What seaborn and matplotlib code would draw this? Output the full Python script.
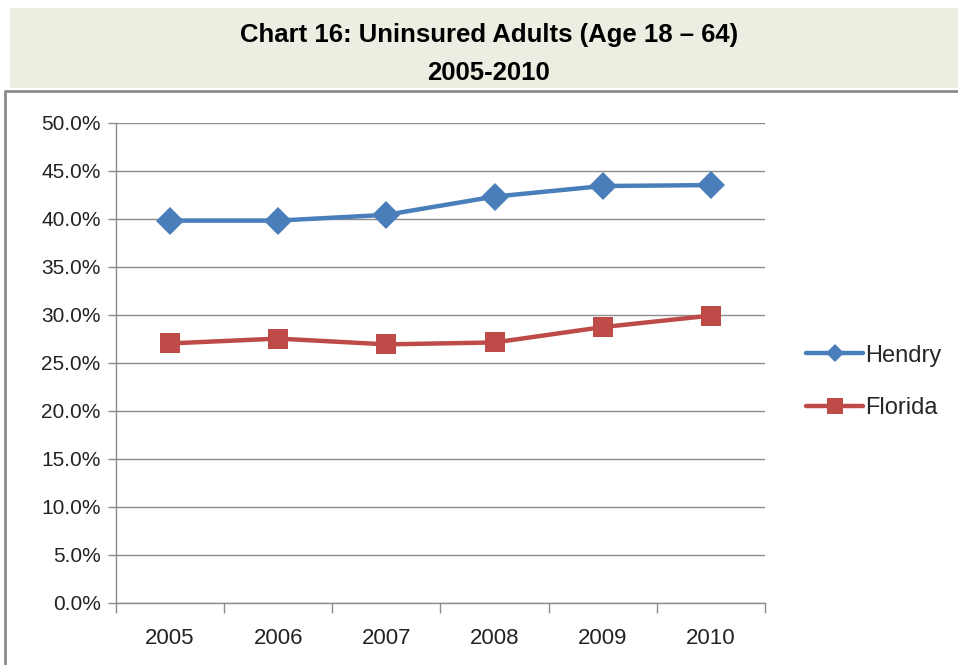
import matplotlib
matplotlib.use("Agg")
import matplotlib.pyplot as plt
import seaborn as sns
import pandas as pd
from matplotlib.patches import Rectangle
from matplotlib.lines import Line2D
from matplotlib.ticker import FixedLocator, FuncFormatter

years = ["2005", "2006", "2007", "2008", "2009", "2010"]
hendry = [39.8, 39.8, 40.4, 42.3, 43.4, 43.5]
florida = [27.0, 27.5, 26.9, 27.1, 28.7, 29.9]
series_names = ["Hendry", "Florida"]
y_ticks = [0, 5, 10, 15, 20, 25, 30, 35, 40, 45, 50]
title_line1 = "Chart 16: Uninsured Adults (Age 18 \u2013 64)"
title_line2 = "2005-2010"

sns.set_theme(style="white")
plt.rcParams['font.family'] = ['Liberation Sans Narrow', 'Liberation Sans', 'DejaVu Sans']

W, H = 958, 665
fig = plt.figure(figsize=(W / 100, H / 100), dpi=100)

# title band
fig.patches.append(Rectangle((10 / W, 1 - 88 / H), (W - 10) / W, 80 / H,
                             transform=fig.transFigure, facecolor="#EEEDE1",
                             edgecolor="none", zorder=0))
# chart border
fig.lines.append(Line2D([5 / W, 5 / W, 1], [0, 1 - 91 / H, 1 - 91 / H],
                        transform=fig.transFigure, color="#8C8C8C", lw=2))

fig.text(489 / W, 1 - 35 / H, title_line1, ha="center", va="center",
         fontsize=18.5, fontweight="bold", color="black")
fig.text(489 / W, 1 - 73 / H, title_line2, ha="center", va="center",
         fontsize=18.5, fontweight="bold", color="black")

left, right, top, bottom = 116, 765, 122.7, 602.5
ax = fig.add_axes([left / W, 1 - bottom / H, (right - left) / W, (bottom - top) / H])

df = pd.DataFrame({
    "Year": years * 2,
    "Value": hendry + florida,
    "Series": [series_names[0]] * len(years) + [series_names[1]] * len(years),
})
palette = {"Hendry": "#4A7EBB", "Florida": "#BE4B48"}
markers = {"Hendry": "D", "Florida": "s"}

sns.lineplot(data=df, x="Year", y="Value", hue="Series", style="Series",
             markers=markers, dashes=False, palette=palette, lw=3.2,
             markersize=14, markeredgewidth=0, sort=False, ax=ax, legend=False)

for ln in ax.lines:
    if ln.get_marker() == "D":
        ln.set_markersize(14)

ax.set_xlim(-0.5, len(years) - 0.5)
ax.set_ylim(0, 50)
ax.set_xlabel("")
ax.set_ylabel("")

ax.yaxis.set_major_locator(FixedLocator(y_ticks))
ax.yaxis.set_major_formatter(FuncFormatter(lambda v, p: f"{v:.1f}%"))
ax.grid(axis="y", color="#8C8C8C", lw=1)
ax.grid(axis="x", visible=False)
ax.set_axisbelow(True)

ax.xaxis.set_major_locator(FixedLocator([i - 0.5 for i in range(len(years) + 1)]))
ax.xaxis.set_major_formatter(FuncFormatter(lambda v, p: ""))
ax.set_xticks(range(len(years)), labels=years, minor=True)
ax.tick_params(axis="x", which="major", direction="out", length=7, width=1,
               color="#8C8C8C", bottom=True)
ax.tick_params(axis="x", which="minor", length=0, pad=18, labelsize=16,
               labelcolor="#222222")
ax.tick_params(axis="y", direction="out", length=6, width=1, color="#8C8C8C",
               left=True, labelsize=15, labelcolor="#222222", pad=5)

for s in ["top", "right"]:
    ax.spines[s].set_visible(False)
for s in ["left", "bottom"]:
    ax.spines[s].set_color("#8C8C8C")
    ax.spines[s].set_linewidth(1)

handles = [
    Line2D([], [], color=palette["Hendry"], lw=3.2, marker="D", markersize=9,
           markeredgewidth=0),
    Line2D([], [], color=palette["Florida"], lw=3.2, marker="s", markersize=12,
           markeredgewidth=0),
]
fig.legend(handles, series_names, loc="center left",
           bbox_to_anchor=(797 / W, 1 - 382 / H), frameon=False, fontsize=17,
           handlelength=2.4, handletextpad=0.1, labelspacing=1.3,
           borderaxespad=0)

fig.savefig("out.png", dpi=100)
